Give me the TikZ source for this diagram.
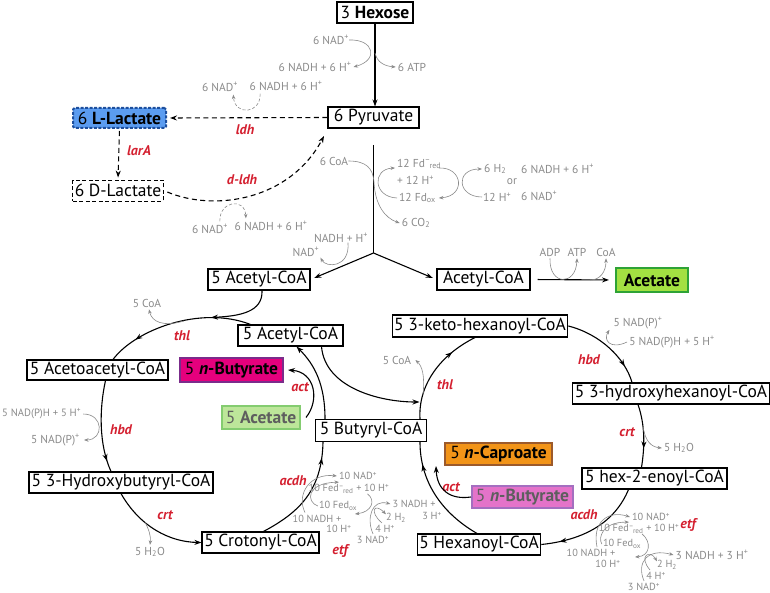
\documentclass[tikz,border=0pt]{standalone}
\usepackage{fontspec}
\setmainfont{PT Sans}
\usetikzlibrary{arrows.meta,decorations.markings}
\definecolor{gr}{HTML}{8A8A8A}
\definecolor{enzred}{HTML}{D42030}
\definecolor{lacfill}{HTML}{5B9CF0}
\definecolor{lacdraw}{HTML}{1D4F9E}
\definecolor{acfill}{HTML}{A3E042}
\definecolor{acdraw}{HTML}{2EA336}
\definecolor{bufill}{HTML}{E5007D}
\definecolor{budraw}{HTML}{7B2C8B}
\definecolor{actwofill}{HTML}{BDE69A}
\definecolor{actwodraw}{HTML}{84CC70}
\definecolor{capfill}{HTML}{F29418}
\definecolor{capdraw}{HTML}{9C5A2B}
\definecolor{butwofill}{HTML}{E473C9}
\definecolor{butwodraw}{HTML}{A46FC0}
\definecolor{fadetext}{HTML}{5E5E5E}
\newcommand\Hp{H\textsuperscript{+}}
\newcommand\NADp{NAD\textsuperscript{+}}
\newcommand\NADPp{NAD(P)\textsuperscript{+}}
\newcommand\Fdred{Fd\textsuperscript{--}\kern-0.1em\textsubscript{red}}
\newcommand\Fdox{Fd\textsubscript{ox}}
\newcommand\Fedred{Fed\textsuperscript{--}\kern-0.1em\textsubscript{red}}
\newcommand\Fedox{Fed\textsubscript{ox}}
\begin{document}
\begin{tikzpicture}[x=1pt,y=-1pt,
  box/.style={draw, line width=1.1pt, fill=white, inner xsep=2pt, inner ysep=0pt, minimum height=21pt, font=\fontsize{17.5}{19}\selectfont},
  gt/.style={text=gr, font=\fontsize{11.5}{12.5}\selectfont, inner sep=0pt},
  gtt/.style={text=gr, font=\fontsize{10.3}{11.5}\selectfont, inner sep=0pt},
  enz/.style={text=enzred, font=\fontsize{14}{16}\selectfont\bfseries\itshape, inner sep=0pt},
  main/.style={line width=1.1pt, -{Stealth[length=7pt,width=5pt]}},
  mainm/.style={line width=1.1pt, postaction={decorate}, decoration={markings, mark=at position #1 with {\arrow{Stealth[length=7pt,width=5pt]}}}},
  dsh/.style={dash pattern=on 5pt off 3.5pt},
  side/.style={color=gr, line width=0.6pt, -{Stealth[length=4.5pt,width=3.5pt]}},
  sdash/.style={dash pattern=on 3pt off 2pt},
]
\useasboundingbox (0,0) rectangle (770,593);

% ---------- boxes ----------
\node[box, minimum width=76pt] (hex) at (375,12.5) {3 \textbf{Hexose}};
\node[box, minimum width=91pt] (pyr) at (373.5,117.5) {6 Pyruvate};
\node[box, minimum width=93pt, minimum height=20pt, fill=lacfill, draw=lacdraw, line width=2pt, dash pattern=on 3pt off 1.5pt, rounded corners=1.5pt] (llac) at (119.5,118) {6 \textbf{L-Lactate}};
\node[box, minimum width=88pt, line width=0.9pt, dash pattern=on 4pt off 2.5pt] (dlac) at (118,190.5) {6 D-Lactate};
\node[box, minimum width=102pt] (acoaa) at (259,279.5) {5 Acetyl-CoA};
\node[box, minimum width=93pt] (acoa) at (483.5,279.5) {Acetyl-CoA};
\node[box, minimum width=72pt, minimum height=24pt, fill=acfill, draw=acdraw, line width=2pt] (acet) at (652,280) {\textbf{Acetate}};
\node[box, minimum width=105pt] (acoab) at (290.5,335.5) {5 Acetyl-CoA};
\node[box, minimum width=141pt, minimum height=20pt] (aac) at (97.5,370) {5 Acetoacetyl-CoA};
\node[box, minimum width=103pt, minimum height=24pt, fill=bufill, draw=budraw, line width=2pt] (buta) at (231.5,370) {5 \textbf{\textit{n}-Butyrate}};
\node[box, minimum width=184pt] (hbc) at (121,482.5) {5 3-Hydroxybutyryl-CoA};
\node[box, minimum width=117pt] (cro) at (260.5,542.5) {5 Crotonyl-CoA};
\node[box, minimum width=111pt, minimum height=22pt] (bcoa) at (371,430.5) {5 Butyryl-CoA};
\node[box, minimum width=78pt, minimum height=23pt, fill=actwofill, draw=actwodraw, line width=2pt, text=fadetext] (acetb) at (261,417.5) {5 \textbf{Acetate}};
\node[box, minimum width=174pt, minimum height=22pt] (khc) at (480,326) {5 3-keto-hexanoyl-CoA};
\node[box, minimum width=194pt] (hhc) at (671,393.5) {5 3-hydroxyhexanoyl-CoA};
\node[box, minimum width=145pt] (hec) at (654.5,478.5) {5 hex-2-enoyl-CoA};
\node[box, minimum width=122pt] (hxc) at (479,544.5) {5 Hexanoyl-CoA};
\node[box, minimum width=107pt, minimum height=22pt, fill=capfill, draw=capdraw, line width=2pt] (cap) at (498.5,454) {5 \textbf{\textit{n}-Caproate}};
\node[box, minimum width=101pt, minimum height=22pt, fill=butwofill, draw=butwodraw, line width=2pt, text=fadetext] (butb) at (522.5,497) {5 \textbf{\textit{n}-Butyrate}};

% ---------- enzyme labels ----------
\node[enz] (eldh) at (245,130) {ldh};
\node[enz] (elar) at (139,151) {larA};
\node[enz] (edldh) at (242,180) {d-ldh};
\node[enz] (ethla) at (182,336) {thl};
\node[enz] (ehbda) at (121,430) {hbd};
\node[enz] (ecrta) at (165,515) {crt};
\node[enz] (eacdha) at (293,481) {acdh};
\node[enz] (eetfa) at (340,551) {etf};
\node[enz] (eacta) at (300,387) {act};
\node[enz] (ethlb) at (445,385) {thl};
\node[enz] (ehbdb) at (589,360) {hbd};
\node[enz] (ecrtb) at (627,432) {crt};
\node[enz] (eacdhb) at (584,515) {acdh};
\node[enz] (eetfb) at (688,525) {etf};
\node[enz] (eactb) at (451,487) {act};

% ---------- main connectors ----------
\draw[main] (hex.south) -- (hex.south |- pyr.north);
\draw[main, dsh, shorten >=3pt] (pyr.west) -- (llac.east);
\draw[main, dsh, shorten >=2pt, shorten <=2pt] (llac.south) -- (dlac.north);
\coordinate (pyrin) at (324,136);
\draw[main, dsh, shorten <=4pt] (dlac.east) .. controls (215,212) and (290,200) .. (pyrin);

\coordinate (jtop) at (373.5,145);
\coordinate (junc) at (373.5,253);
\draw[line width=1.1pt] (jtop) -- (junc);
\draw[main, shorten >=4pt] (junc) -- (acoaa.east);
\draw[main, shorten >=4pt] (junc) -- (acoa.west);
\draw[main, shorten <=7pt, shorten >=6pt] (acoa.east) -- (acet.west);

% left cycle
\coordinate (thlj) at (211,317.5);
\draw[main] ([xshift=3pt]acoaa.south) .. controls (263,312) and (240,316) .. (thlj);
\draw[mainm=0.8] ([xshift=-40pt]acoab.north) .. controls (200,305) and (135,330) .. ([xshift=15.5pt]aac.north);
\draw[mainm=0.88] ([xshift=8pt]aac.south) .. controls (99,410) and (99,445) .. ([xshift=-10pt]hbc.north);
\draw[main] (hbc.south) .. controls (140,527) and (170,542) .. (cro.west);
\draw[mainm=0.86] ([xshift=3pt]cro.north) .. controls (300,512) and (322,490) .. ([xshift=-48pt]bcoa.south);
\draw[main] ([xshift=-46pt]bcoa.north) .. controls (325,385) and (315,365) .. ([xshift=6pt]acoab.south);
\draw[main] ([xshift=5pt]acetb.east) .. controls (320,400) and (315,372) .. ([xshift=4pt]buta.east);
\coordinate (rj) at (419.5,402);
\draw[main] ([xshift=31pt]acoab.south) .. controls (325,388) and (380,402) .. (rj);

% right cycle
\draw[mainm=0.74] ([xshift=49pt]bcoa.north) .. controls (418,385) and (440,355) .. ([xshift=-5pt]khc.south);
\draw[mainm=0.8] (khc.east) .. controls (600,334) and (625,358) .. ([xshift=-39pt]hhc.north);
\draw[mainm=0.7] ([xshift=-33pt]hhc.south) .. controls (645,425) and (645,445) .. ([xshift=-13pt]hec.north);
\draw[mainm=0.83] ([xshift=-26pt]hec.south) .. controls (615,522) and (585,540) .. (hxc.east);
\draw[mainm=0.8] ([xshift=-2pt]hxc.north) .. controls (440,512) and (420,480) .. ([xshift=49pt]bcoa.south);
\draw[main] (butb.west) .. controls (450,500) and (437,490) .. ([xshift=-8pt]cap.south west);

% ---------- side reactions ----------
% glycolysis
\node[gt] (hnad) at (331,40) {6 \NADp};
\node[gt] (hnadh) at (315,67) {6 NADH + 6 \Hp};
\node[gt] (hatp) at (412,67) {6 ATP};
\coordinate (hmid) at (375,53);
\draw[side] (hnad.east) .. controls (374,39) and (379,60) .. ([xshift=2pt]hnadh.east);
\draw[side] (hmid) .. controls (377,62) and (384,66) .. ([xshift=-2pt]hatp.west);

% ldh
\node[gt] (lnad) at (220,87) {6 \NADp};
\node[gt] (lnadh) at (286,86) {6 NADH + 6 \Hp};
\draw[side, sdash, shorten <=3pt, shorten >=3pt] ([xshift=-26pt]lnadh.south) .. controls (261,114) and (235,116) .. ([xshift=13pt]lnad.south);

% d-ldh
\node[gt] (dnad) at (210,229) {6 \NADp};
\node[gt] (dnadh) at (271,226) {6 NADH + 6 \Hp};
\draw[side, sdash, shorten <=3pt, shorten >=3pt] ([xshift=10pt]dnad.north) .. controls (219,201) and (245,197) .. ([xshift=-25pt]dnadh.north);

% pyruvate oxidation
\node[gt] (coasix) at (334,161) {6 CoA};
\node[gt] (cotwo) at (416,223) {6 CO\textsubscript{2}};
\draw[side] (coasix.east) .. controls (366,161) and (373,168) .. (374,182) .. controls (375,205) and (385,218) .. ([xshift=-2pt]cotwo.west);
\node[gt, anchor=west] (fdred) at (397,164) {12 \Fdred};
\node[gt, anchor=west] (fdh) at (397,180.5) {+ 12 \Hp};
\node[gt, anchor=west] (fdox) at (399,198) {12 \Fdox};
\node[gt, anchor=west] (htwo) at (484,169) {6 H\textsubscript{2}};
\node[gt, anchor=west] (htw) at (483,197) {12 \Hp};
\node[gt] (orr) at (512,182) {or};
\node[gt, anchor=west] (nadhsix) at (521,169) {6 NADH + 6 \Hp};
\node[gt, anchor=west] (nadsix) at (521,196) {6 \NADp};
\coordinate (fdin) at (395,168);
\coordinate (fdout) at (439,168);
\draw[side] ([xshift=-2pt]fdox.west) .. controls (373,197) and (372,169) .. (fdin);
\draw[side] (fdout) .. controls (463,167) and (466,196) .. ([xshift=3pt]fdox.east);
\draw[side] ([xshift=-1pt]htw.west) .. controls (457,197) and (455,169) .. ([xshift=-2pt]htwo.west);

% acetyl-CoA branch
\node[gt] (nhh) at (341,238) {NADH + \Hp};
\node[gt] (naa) at (306,252) {\NADp};
\draw[side] ([xshift=7pt]nhh.south) .. controls (350,268) and (326,268) .. ([xshift=1pt,yshift=-1pt]naa.south east);

% acetate kinase
\node[gt] (adp) at (550,252) {ADP};
\node[gt] (atp) at (577,252) {ATP};
\node[gt] (coac) at (606,252) {CoA};
\draw[side] ([yshift=-2pt]adp.south) .. controls (549,286) and (576,286) .. ([yshift=-2pt]atp.south);
\coordinate (coaj) at (590,280);
\draw[side] (coaj) .. controls (600,280) and (606,272) .. ([yshift=-2pt]coac.south);

% left cycle sides
\node[gt] (coafa) at (147,303) {5 CoA};
\coordinate (thll) at (184,321);
\draw[side] (thll) .. controls (163,327) and (152,322) .. ([xshift=2pt,yshift=-2pt]coafa.south);
\node[gt, anchor=west, font=\fontsize{10.6}{12}\selectfont] (npha) at (2,414) {5 NAD(P)H + 5 \Hp};
\node[gt, anchor=east] (nppa) at (80,440) {5 \NADPp};
\draw[side] ([xshift=2pt]npha.east) .. controls (104,414) and (104,440) .. ([xshift=4pt]nppa.east);
\node[gt] (hoa) at (150,552) {5 H\textsubscript{2}O};
\coordinate (crtl) at (145,522);
\draw[side] (crtl) .. controls (149,530) and (151,536) .. ([yshift=2pt]hoa.north);

% right cycle sides
\node[gt] (coafb) at (397,360) {5 CoA};
\coordinate (thlr) at (423,395);
\draw[side] (thlr) .. controls (425,375) and (422,366) .. ([xshift=4pt]coafb.east);
\node[gt] (nppb) at (638,323) {5 \NADPp};
\node[gt] (nphb) at (672,342) {5 NAD(P)H + 5 \Hp};
\draw[side] ([xshift=-2pt]nphb.west) .. controls (610,350) and (603,340) .. ([xshift=-4pt,yshift=-1pt]nppb.south west);
\node[gt] (hob) at (679,448) {5 H\textsubscript{2}O};
\coordinate (crtr) at (643,426);
\draw[side] (crtr) .. controls (645,442) and (652,447) .. ([xshift=-2pt]hob.west);

% etf left
\node[gtt] (eanad) at (358,476) {10 \NADp};
\node[gtt] (eafr) at (349,489) {10 \Fedred{} + 10 \Hp};
\node[gtt] (eafo) at (338,506) {10 \Fedox};
\node[gtt] (eanadh) at (317,518.5) {10 NADH +};
\node[gtt] (eah) at (339,529) {10 \Hp};
\node[gtt] (eanadht) at (414,504) {3 NADH +};
\node[gtt] (eaht) at (432,516) {3 \Hp};
\node[gtt] (eahtwo) at (396,518) {2 H\textsubscript{2}};
\node[gtt] (eahf) at (385,529) {4 \Hp};
\node[gtt] (eanadt) at (373,540) {3 \NADp};
\draw[side] ([xshift=-12pt,yshift=2pt]eanadh.north) .. controls (296,494) and (310,473) .. ([xshift=-2pt]eanad.west);
\draw[side] ([xshift=-1pt]eafo.west) .. controls (306,502) and (306,483) .. ([xshift=-10pt,yshift=2pt]eafr.north);
\coordinate (eafe) at (355,514);
\draw[side] ([xshift=-22pt]eafr.south east) .. controls (376,500) and (372,512) .. (eafe);
\draw[side] ([yshift=2pt]eanadt.north) .. controls (366,518) and (372,499) .. ([xshift=-2pt]eanadht.west);
\draw[side] ([xshift=-3pt,yshift=2pt]eahf.north) .. controls (369,512) and (374,502) .. ([yshift=-1pt]eahtwo.north west);

% etf right
\node[gtt] (ebnad) at (651,517) {10 \NADp};
\node[gtt] (ebfr) at (639,529) {10 \Fedred{} + 10 \Hp};
\node[gtt] (ebfo) at (622,544) {10 \Fedox};
\node[gtt] (ebnadh) at (591,553) {10 NADH +};
\node[gtt] (ebh) at (608,564) {10 \Hp};
\node[gt] (ebnadht) at (712,555) {3 NADH + 3 \Hp};
\node[gtt] (ebhtwo) at (667,565) {2 H\textsubscript{2}};
\node[gtt] (ebhf) at (656,576) {4 \Hp};
\node[gtt] (ebnadt) at (644,587) {3 \NADp};
\draw[side] ([xshift=6pt,yshift=2pt]ebnadh.north) .. controls (592,522) and (608,510) .. ([xshift=-2pt]ebnad.west);
\draw[side] ([xshift=-1pt]ebfo.west) .. controls (598,538) and (602,522) .. ([xshift=-10pt,yshift=2pt]ebfr.north);
\coordinate (ebfe) at (635,557);
\draw[side] ([xshift=3pt]ebfr.south) .. controls (652,542) and (650,556) .. (ebfe);
\draw[side] ([yshift=2pt]ebnadt.north) .. controls (636,562) and (648,548) .. ([xshift=-2pt]ebnadht.west);
\draw[side] ([xshift=-6pt,yshift=2pt]ebhf.north) .. controls (638,556) and (650,549) .. ([yshift=-1pt]ebhtwo.north west);

\end{tikzpicture}
\end{document}
